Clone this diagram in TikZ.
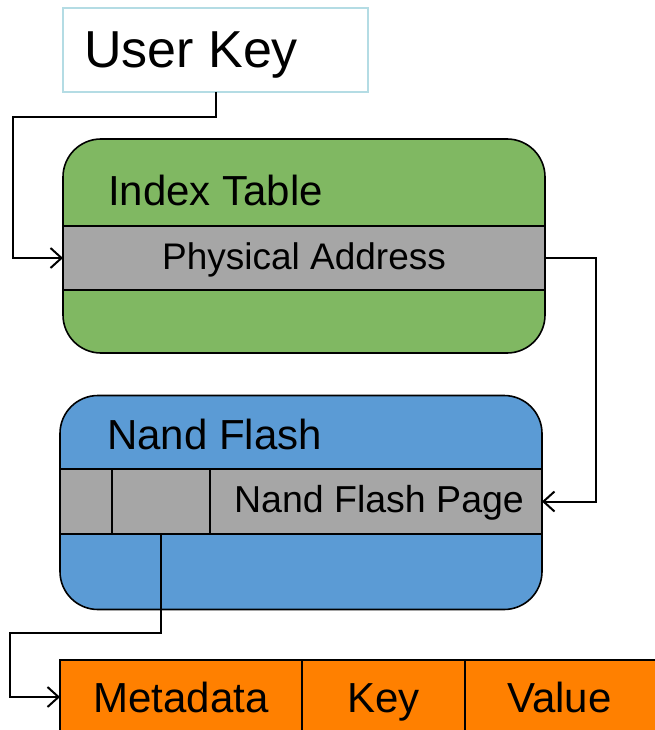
\documentclass[tikz,border=0pt]{standalone}
\usepackage{fontspec}
\setmainfont{Liberation Sans}
\usetikzlibrary{arrows.meta,shadows}
\definecolor{keyedge}{HTML}{B4DCE4}
\definecolor{idxgreen}{HTML}{80B862}
\definecolor{flashblue}{HTML}{5B9BD5}
\definecolor{bandgray}{HTML}{A6A6A6}
\definecolor{recorange}{HTML}{FF8000}
\tikzset{
  fsz/.style={font=\fontsize{#1}{#1}\selectfont},
  panel/.style={draw=black, line width=1.6pt, rounded corners=38pt, inner sep=0pt, outer sep=0pt,
                minimum width=482pt, minimum height=214pt},
  band/.style={draw=black, line width=1.6pt, fill=bandgray, inner sep=0pt, outer sep=0pt,
               minimum height=64pt},
  cell/.style={draw=black, line width=1.2pt, fill=recorange, inner sep=0pt, outer sep=0pt,
               minimum height=74pt, fsz=42, text height=30pt, text depth=0pt},
  conn/.style={draw=black, line width=2pt, -{Straight Barb[length=11pt,width=20pt]}},
  lbl/.style={inner sep=0pt, anchor=base west},
}
\begin{document}
\begin{tikzpicture}[x=1pt, y=-1pt]
\useasboundingbox (0,0) rectangle (654,730);

% user key box
\node[draw=keyedge, line width=1.5pt, fill=white, inner sep=0pt, outer sep=0pt,
      minimum width=305pt, minimum height=84pt] (ukey) at (215.5,50) {};
\node[lbl, fsz=52] (ukeylbl) at (84,68) {User Key};

% index table
\node[panel, fill=idxgreen] (itab) at (304,246) {};
\node[lbl, fsz=42] (itablbl) at (108,205) {Index Table};
\node[band, minimum width=482pt] (paddr) at (304,258) {};
\node[inner sep=0pt, fsz=37] (paddrlbl) at (304,260) {Physical Address};

% nand flash
\node[panel, fill=flashblue] (nand) at (301,502.5) {};
\node[lbl, fsz=42] (nandlbl) at (107,449) {Nand Flash};
\node[band, minimum width=482pt, minimum height=65pt] (npage) at (301,501.5) {};
\node[band, minimum width=52pt, minimum height=65pt, line width=1.2pt] (cellA) at (86,501.5) {};
\node[band, minimum width=98pt, minimum height=65pt, line width=1.2pt] (cellB) at (161,501.5) {};
\node[inner sep=0pt, fsz=37.5] (npagelbl) at (379,503) {Nand Flash Page};

% record layout
\node[cell, minimum width=242pt] (meta) at (181,697) {Metadata};
\node[cell, minimum width=163pt] (key) at (383.5,697) {Key};
\node[cell, minimum width=192pt] (val) at (561,697) {\hspace*{-3pt}Value};

% connectors
\coordinate (k1) at (13,117);
\coordinate (k2) at (596,258);
\coordinate (k3) at (10,633);
\draw[conn] (ukey.south) |- (k1) |- (paddr.west);
\draw[conn] (paddr.east) -- (k2) |- (npage.east);
\draw[conn] (cellB.south) |- (k3) |- (meta.west);
\end{tikzpicture}
\end{document}
